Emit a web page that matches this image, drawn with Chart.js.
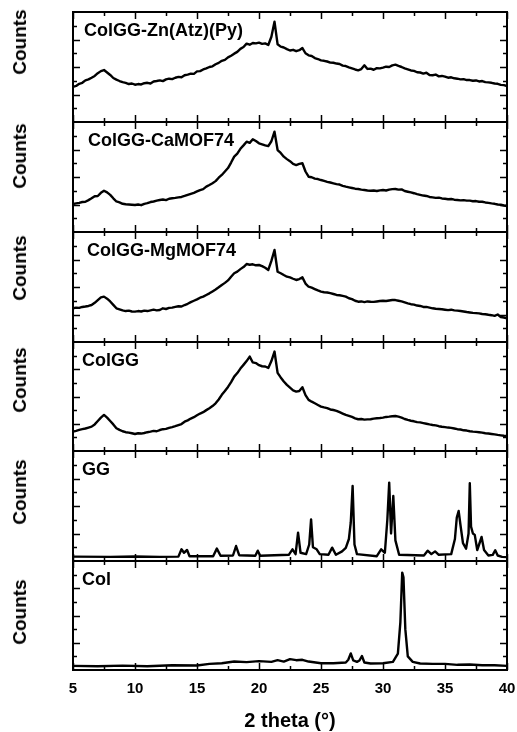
<!DOCTYPE html>
<html>
<head>
<meta charset="utf-8">
<script src="https://cdn.jsdelivr.net/npm/chart.js@4.4.1/dist/chart.umd.min.js"></script>
<style>
    body { margin: 0; background: #fff; }
    #wrap { position: relative; width: 517px; height: 732px; overflow: hidden; background: #fff; }
    #wrap canvas { position: absolute; left: 0; }
    .ylab {
        position: absolute; left: 20px;
        font: bold 19px "Liberation Sans", Arial, sans-serif; color: #000;
        white-space: nowrap;
        transform: translate(-50%, -50%) rotate(-90deg);
    }
</style>
</head>
<body>
<div id="wrap"></div>
<script>
// 2 theta grid for the broad patterns (degrees)
const twoTheta = [
    5, 5.25, 5.5, 5.75, 6, 6.25, 6.5, 6.75, 7, 7.25, 7.5, 7.75, 8, 8.25, 8.5, 8.75, 9, 9.25, 9.5, 9.75,
    10, 10.25, 10.5, 10.75, 11, 11.25, 11.5, 11.75, 12, 12.25, 12.5, 12.75, 13, 13.25, 13.5, 13.75, 14, 14.25, 14.5, 14.75,
    15, 15.25, 15.5, 15.75, 16, 16.25, 16.5, 16.75, 17, 17.25, 17.5, 17.75, 18, 18.25, 18.5, 18.75, 19, 19.25, 19.5, 19.75,
    20, 20.25, 20.5, 20.75, 21, 21.25, 21.5, 21.75, 22, 22.25, 22.5, 22.75, 23, 23.25, 23.5, 23.75, 24, 24.25, 24.5, 24.75,
    25, 25.25, 25.5, 25.75, 26, 26.25, 26.5, 26.75, 27, 27.25, 27.5, 27.75, 28, 28.25, 28.5, 28.75, 29, 29.25, 29.5, 29.75,
    30, 30.25, 30.5, 30.75, 31, 31.25, 31.5, 31.75, 32, 32.25, 32.5, 32.75, 33, 33.25, 33.5, 33.75, 34, 34.25, 34.5, 34.75,
    35, 35.25, 35.5, 35.75, 36, 36.25, 36.5, 36.75, 37, 37.25, 37.5, 37.75, 38, 38.25, 38.5, 38.75, 39, 39.25, 39.5, 39.75,
    40
];

// Counts (arbitrary units, 0-8 per panel)
const countsZnAtzPy = [
    2.55, 2.62, 2.78, 2.85, 3.03, 3.10, 3.22, 3.35, 3.55, 3.70, 3.78, 3.60, 3.42, 3.20, 3.08, 2.98, 2.90, 2.84, 2.76, 2.80,
    2.71, 2.76, 2.73, 2.82, 2.85, 2.80, 2.95, 2.98, 3.03, 2.97, 3.10, 3.15, 3.12, 3.22, 3.28, 3.25, 3.40, 3.45, 3.52, 3.50,
    3.68, 3.70, 3.82, 3.90, 4.00, 4.05, 4.20, 4.30, 4.45, 4.52, 4.70, 4.82, 4.97, 5.10, 5.32, 5.45, 5.70, 5.62, 5.75, 5.72,
    5.77, 5.68, 5.72, 5.60, 6.20, 7.30, 5.65, 5.48, 5.42, 5.30, 5.20, 5.25, 5.15, 5.22, 5.38, 5.00, 4.85, 4.80, 4.65, 4.58,
    4.48, 4.45, 4.40, 4.32, 4.31, 4.25, 4.22, 4.10, 4.07, 3.98, 3.90, 3.82, 3.76, 3.85, 4.12, 3.86, 3.88, 3.80, 3.92, 3.90,
    3.95, 4.02, 4.00, 4.12, 4.17, 4.08, 4.00, 3.90, 3.83, 3.75, 3.72, 3.62, 3.60, 3.52, 3.58, 3.42, 3.40, 3.45, 3.32, 3.35,
    3.30, 3.22, 3.25, 3.18, 3.15, 3.10, 3.12, 3.05, 3.05, 3.00, 3.02, 2.95, 2.98, 2.90, 2.88, 2.85, 2.80, 2.78, 2.70, 2.68,
    2.62
];

const countsCaMOF74 = [
    2.04, 2.08, 2.12, 2.18, 2.20, 2.32, 2.45, 2.60, 2.62, 2.85, 3.00, 2.88, 2.70, 2.45, 2.22, 2.15, 2.05, 2.02, 2.00, 1.98,
    1.96, 2.00, 1.95, 2.05, 2.10, 2.18, 2.22, 2.28, 2.33, 2.36, 2.32, 2.42, 2.45, 2.48, 2.52, 2.55, 2.62, 2.70, 2.78, 2.85,
    2.95, 3.05, 3.12, 3.30, 3.42, 3.55, 3.70, 3.95, 4.15, 4.40, 4.65, 5.05, 5.48, 5.70, 6.05, 6.30, 6.57, 6.48, 6.74, 6.62,
    6.45, 6.38, 6.30, 6.25, 6.60, 7.30, 5.96, 5.75, 5.48, 5.30, 5.15, 4.95, 4.87, 4.95, 5.00, 4.40, 4.02, 3.98, 3.88, 3.85,
    3.78, 3.72, 3.65, 3.60, 3.54, 3.48, 3.45, 3.36, 3.30, 3.25, 3.20, 3.15, 3.13, 3.08, 3.05, 3.02, 3.00, 3.02, 2.98, 3.03,
    3.05, 3.02, 3.08, 3.12, 3.13, 3.08, 3.10, 2.98, 2.93, 2.88, 2.82, 2.75, 2.70, 2.65, 2.62, 2.55, 2.52, 2.48, 2.50, 2.44,
    2.42, 2.38, 2.40, 2.35, 2.33, 2.30, 2.32, 2.28, 2.28, 2.24, 2.25, 2.20, 2.20, 2.15, 2.12, 2.08, 2.05, 2.00, 1.98, 1.93,
    1.89
];

const countsMgMOF74 = [
    2.45, 2.50, 2.48, 2.55, 2.58, 2.62, 2.69, 2.85, 3.05, 3.25, 3.30, 3.15, 2.95, 2.70, 2.45, 2.38, 2.30, 2.25, 2.28, 2.22,
    2.21, 2.25, 2.22, 2.28, 2.25, 2.30, 2.35, 2.30, 2.33, 2.45, 2.40, 2.48, 2.50, 2.55, 2.60, 2.58, 2.69, 2.78, 2.90, 3.00,
    3.10, 3.22, 3.30, 3.42, 3.54, 3.68, 3.82, 3.98, 4.15, 4.30, 4.48, 4.75, 5.00, 5.12, 5.30, 5.45, 5.67, 5.62, 5.65, 5.58,
    5.60, 5.52, 5.40, 5.24, 5.90, 6.69, 5.11, 5.00, 4.87, 4.75, 4.70, 4.60, 4.51, 4.58, 4.70, 4.25, 4.02, 3.95, 3.85, 3.75,
    3.66, 3.62, 3.60, 3.55, 3.49, 3.42, 3.40, 3.35, 3.30, 3.18, 3.12, 3.00, 2.93, 2.95, 2.90, 2.95, 2.93, 2.92, 2.95, 2.98,
    3.00, 2.98, 3.02, 3.05, 3.05, 3.00, 2.95, 2.88, 2.81, 2.75, 2.72, 2.65, 2.62, 2.55, 2.55, 2.50, 2.45, 2.42, 2.40, 2.38,
    2.35, 2.32, 2.35, 2.30, 2.28, 2.25, 2.22, 2.18, 2.15, 2.12, 2.10, 2.08, 2.04, 2.02, 1.98, 1.95, 1.90, 2.00, 1.82, 1.78,
    1.72
];

const countsColGG = [
    1.42, 1.48, 1.55, 1.60, 1.65, 1.72, 1.79, 1.95, 2.20, 2.45, 2.65, 2.45, 2.20, 1.95, 1.67, 1.55, 1.45, 1.38, 1.35, 1.30,
    1.25, 1.30, 1.28, 1.32, 1.38, 1.42, 1.48, 1.45, 1.54, 1.60, 1.62, 1.70, 1.75, 1.82, 1.90, 1.98, 2.15, 2.25, 2.38, 2.48,
    2.62, 2.75, 2.85, 3.00, 3.14, 3.30, 3.50, 3.78, 4.12, 4.40, 4.70, 5.05, 5.46, 5.72, 6.05, 6.32, 6.60, 6.93, 6.50, 6.45,
    6.30, 6.22, 6.20, 6.10, 6.60, 7.30, 5.73, 5.40, 5.10, 4.85, 4.65, 4.45, 4.36, 4.40, 4.68, 4.10, 3.75, 3.62, 3.50, 3.38,
    3.26, 3.20, 3.15, 3.05, 3.01, 2.95, 2.85, 2.75, 2.65, 2.58, 2.50, 2.40, 2.33, 2.35, 2.30, 2.32, 2.33, 2.38, 2.40, 2.42,
    2.45, 2.50, 2.52, 2.55, 2.57, 2.52, 2.45, 2.35, 2.28, 2.22, 2.18, 2.12, 2.10, 2.05, 2.00, 1.95, 1.91, 1.88, 1.82, 1.78,
    1.75, 1.72, 1.70, 1.65, 1.60, 1.58, 1.52, 1.50, 1.45, 1.42, 1.40, 1.38, 1.35, 1.30, 1.28, 1.25, 1.22, 1.18, 1.15, 1.12,
    1.10
];

// GG (crystalline) - sampled around its peaks
const twoThetaGG = [
    5, 8, 10, 12, 13.5, 13.75, 13.95, 14.2, 14.4, 16.3, 16.6, 16.9, 17.9, 18.15, 18.4, 19.7, 19.9, 20.1,
    22.4, 22.7, 22.95, 23.15, 23.35, 23.8, 24.05, 24.2, 24.35, 24.65, 24.9, 25.6, 25.9, 26.2,
    26.7, 27.0, 27.25, 27.4, 27.55, 27.7, 27.9, 29.5, 29.85, 30.15, 30.35, 30.5, 30.65, 30.83, 31.0, 31.3,
    33.3, 33.6, 33.9, 34.2, 34.5, 35.5, 35.8, 35.95, 36.1, 36.25, 36.45, 36.7, 36.9, 37.0, 37.1, 37.25,
    37.4, 37.6, 37.75, 37.95, 38.15, 38.5, 38.85, 39.05, 39.25, 39.6, 40
];
const countsGG = [
    0.32, 0.30, 0.33, 0.30, 0.32, 0.85, 0.60, 0.80, 0.35, 0.35, 0.90, 0.38, 0.40, 1.09, 0.42, 0.38, 0.75, 0.38,
    0.45, 0.85, 0.50, 2.06, 0.60, 0.50, 1.20, 3.03, 1.00, 0.85, 0.50, 0.45, 0.97, 0.45,
    0.70, 0.95, 1.60, 2.80, 5.45, 1.20, 0.50, 0.35, 0.85, 0.60, 3.00, 5.70, 2.00, 4.73, 1.50, 0.45,
    0.40, 0.75, 0.50, 0.70, 0.45, 0.50, 1.60, 3.15, 3.64, 2.60, 1.30, 0.90, 2.00, 5.65, 2.50, 2.00,
    1.90, 0.80, 1.20, 1.75, 0.80, 0.40, 0.45, 0.78, 0.40, 0.30, 0.28
];

// Col
const twoThetaCol = [
    5, 7, 9, 11, 13, 15, 16, 17, 18, 19, 20, 21, 21.5, 22, 22.5, 23, 23.5, 24, 25, 26, 27, 27.2, 27.4, 27.6,
    27.9, 28.1, 28.3, 28.5, 29, 30, 30.8, 31.2, 31.4, 31.55, 31.65, 31.8, 32.0, 32.4, 33, 34, 35, 36, 37, 38, 39, 40
];
const countsCol = [
    0.30, 0.28, 0.32, 0.27, 0.35, 0.33, 0.45, 0.50, 0.62, 0.58, 0.65, 0.60, 0.72, 0.62, 0.80, 0.72, 0.75, 0.62, 0.50, 0.50, 0.55, 0.75, 1.22, 0.70,
    0.60, 0.70, 1.03, 0.55, 0.48, 0.50, 0.60, 1.20, 3.50, 7.15, 6.80, 3.00, 1.00, 0.60, 0.48, 0.45, 0.45, 0.38, 0.40, 0.35, 0.35, 0.30
];

const panelNames = ['ColGG-Zn(Atz)(Py)', 'ColGG-CaMOF74', 'ColGG-MgMOF74', 'ColGG', 'GG', 'Col'];
const panelX = [twoTheta, twoTheta, twoTheta, twoTheta, twoThetaGG, twoThetaCol];
const panelY = [countsZnAtzPy, countsCaMOF74, countsMgMOF74, countsColGG, countsGG, countsCol];

const xTickValues = [5, 7.5, 10, 12.5, 15, 17.5, 20, 22.5, 25, 27.5, 30, 32.5, 35, 37.5, 40];
const yTickValues = [1, 2, 3, 4, 5, 6, 7];

// layout (pixels)
const panelTops = [12, 122, 232, 342, 451, 561, 670];
const labelLeft = [84, 88, 87, 82, 82, 82];
const countsCenters = [42, 156, 268, 380, 492, 612];

const FONT = '"Liberation Sans", Arial, Helvetica, sans-serif';

// frame, inward ticks and panel name
const framePlugin = {
    id: 'frame',
    afterDatasetsDraw(chart, args, opts) {
        const { ctx, chartArea: a, scales: { x, y } } = chart;
        ctx.save();
        ctx.strokeStyle = '#000';
        ctx.lineWidth = 1.5;
        ctx.beginPath();
        xTickValues.forEach(v => {
            const px = Math.round(x.getPixelForValue(v)) + 0.5;
            const len = v % 5 === 0 ? 7 : 4;
            ctx.moveTo(px, a.top); ctx.lineTo(px, a.top + len);
            ctx.moveTo(px, a.bottom); ctx.lineTo(px, a.bottom - len);
        });
        yTickValues.forEach(v => {
            const py = Math.round(y.getPixelForValue(v)) + 0.5;
            const len = v % 2 === 0 ? 7 : 4;
            ctx.moveTo(a.left, py); ctx.lineTo(a.left + len, py);
            ctx.moveTo(a.right, py); ctx.lineTo(a.right - len, py);
        });
        ctx.stroke();
        ctx.lineWidth = 2;
        ctx.strokeRect(a.left, a.top, a.right - a.left, a.bottom - a.top);

        ctx.fillStyle = '#000';
        ctx.font = 'bold 18px ' + FONT;
        ctx.textBaseline = 'alphabetic';
        ctx.fillText(opts.label, opts.labelX, a.top + 24);
        ctx.restore();
    }
};

const wrap = document.getElementById('wrap');

function makePanel(i) {
    const isLast = i === panelNames.length - 1;
    const top = panelTops[i] - 4;
    const h = isLast ? 732 - top : (panelTops[i + 1] - panelTops[i]) + 8;

    const canvas = document.createElement('canvas');
    canvas.width = 517;
    canvas.height = h;
    canvas.style.top = top + 'px';
    canvas.style.width = '517px';
    canvas.style.height = h + 'px';
    wrap.appendChild(canvas);

    const lab = document.createElement('div');
    lab.className = 'ylab';
    lab.style.top = countsCenters[i] + 'px';
    lab.textContent = 'Counts';
    wrap.appendChild(lab);

    const points = panelX[i].map((v, k) => ({ x: v, y: panelY[i][k] }));

    new Chart(canvas, {
        type: 'line',
        data: {
            datasets: [{
                data: points,
                borderColor: '#000',
                borderWidth: 2.4,
                borderJoinStyle: 'round',
                pointRadius: 0,
                tension: 0,
                fill: false
            }]
        },
        options: {
            responsive: false,
            animation: false,
            events: [],
            layout: { padding: { left: 73, right: 10, top: 4, bottom: isLast ? 0 : 4 } },
            plugins: {
                legend: { display: false },
                tooltip: { enabled: false },
                frame: { label: panelNames[i], labelX: labelLeft[i] }
            },
            scales: {
                x: {
                    type: 'linear',
                    min: 5,
                    max: 40,
                    display: isLast,
                    afterFit(scale) {
                        scale.paddingLeft = 0;
                        scale.paddingRight = 0;
                        if (isLast) scale.height = 62;
                    },
                    grid: { display: false, drawTicks: false },
                    border: { display: false },
                    ticks: {
                        stepSize: 2.5,
                        autoSkip: false,
                        maxRotation: 0,
                        padding: 10,
                        color: '#000',
                        font: { family: FONT, size: 15, weight: 'bold' },
                        callback: v => (v % 5 === 0 ? v : '')
                    },
                    title: {
                        display: true,
                        text: '2 theta (°)',
                        color: '#000',
                        padding: 0,
                        font: { family: FONT, size: 20, weight: 'bold', lineHeight: 1.1 }
                    }
                },
                y: {
                    type: 'linear',
                    min: 0,
                    max: 8,
                    display: false
                }
            }
        },
        plugins: [framePlugin]
    });
}

panelNames.forEach((n, i) => makePanel(i));
</script>
</body>
</html>
